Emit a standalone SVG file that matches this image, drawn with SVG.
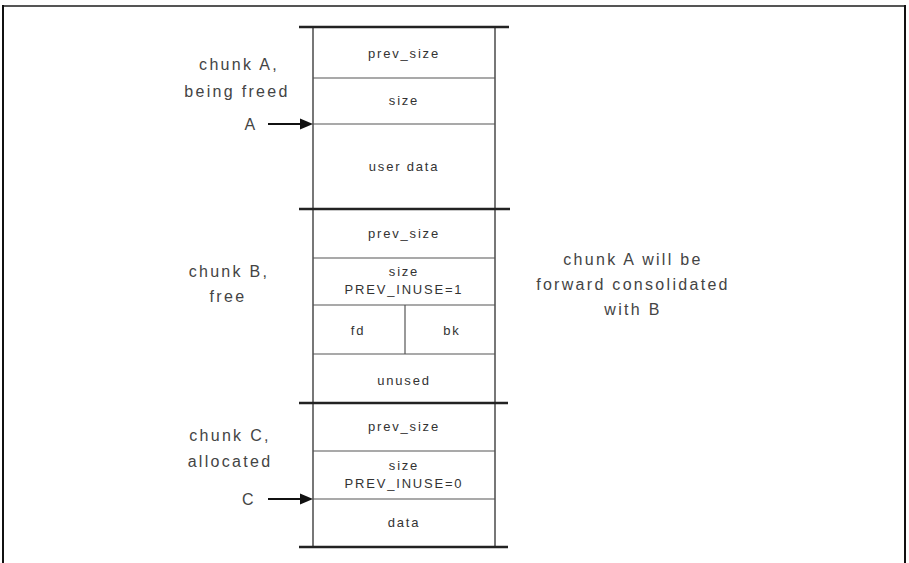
<svg xmlns="http://www.w3.org/2000/svg" width="909" height="563" viewBox="0 0 909 563">
<style>
.cell{font-family:"Liberation Sans",Arial,sans-serif;font-size:13px;letter-spacing:1.8px;fill:#333;text-anchor:middle}
.lbl{font-family:"Liberation Sans",Arial,sans-serif;font-size:16px;letter-spacing:2.3px;fill:#444;text-anchor:middle}
.div{stroke:#555;stroke-width:1.2}
.bar{stroke:#222;stroke-width:2.5}
.vert{stroke:#555;stroke-width:1.6}
.arr{stroke:#111;stroke-width:2;fill:none}
.head{fill:#111}
</style>
<rect width="909" height="563" fill="#fff"/>
<g id="frame" fill="none">
<line x1="2" y1="6" x2="906" y2="6" stroke="#555" stroke-width="2"/>
<line x1="3" y1="5" x2="3" y2="563" stroke="#111" stroke-width="2"/>
<line x1="905" y1="5" x2="905" y2="563" stroke="#111" stroke-width="2"/>
</g>
<g id="column">
<line class="vert" x1="313" y1="27" x2="313" y2="547"/>
<line class="vert" x1="495" y1="27" x2="495" y2="547"/>
<line class="bar" x1="299" y1="27" x2="509" y2="27"/>
<line class="bar" x1="299" y1="209" x2="510" y2="209"/>
<line class="bar" x1="299" y1="403" x2="508" y2="403"/>
<line class="bar" x1="299" y1="547" x2="508" y2="547"/>
</g>
<g id="chunkA">
<g id="a_prev_size"><text class="cell" x="404" y="58">prev_size</text></g>
<line class="div" x1="313" y1="78" x2="495" y2="78"/>
<g id="a_size"><text class="cell" x="404" y="105">size</text></g>
<line class="div" x1="313" y1="124" x2="495" y2="124"/>
<g id="a_user_data"><text class="cell" x="404" y="171">user data</text></g>
<text class="lbl" x="239" y="70">chunk A,</text>
<text class="lbl" x="237" y="97">being freed</text>
<text class="lbl" x="251" y="130" letter-spacing="0">A</text>
</g>
<g id="chunkB">
<g id="b_prev_size"><text class="cell" x="404" y="238">prev_size</text></g>
<line class="div" x1="313" y1="258" x2="495" y2="258"/>
<g id="b_size"><text class="cell" x="404" y="276">size</text><text class="cell" x="404" y="294">PREV_INUSE=1</text></g>
<line class="div" x1="313" y1="305" x2="495" y2="305"/>
<g id="b_fd"><text class="cell" x="358" y="335">fd</text></g>
<line class="div" x1="405" y1="305" x2="405" y2="354"/>
<g id="b_bk"><text class="cell" x="452" y="335">bk</text></g>
<line class="div" x1="313" y1="354" x2="495" y2="354"/>
<g id="b_unused"><text class="cell" x="404" y="385">unused</text></g>
<text class="lbl" x="229" y="277">chunk B,</text>
<text class="lbl" x="228" y="302">free</text>
</g>
<g id="chunkC">
<g id="c_prev_size"><text class="cell" x="404" y="431">prev_size</text></g>
<line class="div" x1="313" y1="451" x2="495" y2="451"/>
<g id="c_size"><text class="cell" x="404" y="470">size</text><text class="cell" x="404" y="488">PREV_INUSE=0</text></g>
<line class="div" x1="313" y1="499" x2="495" y2="499"/>
<g id="c_data"><text class="cell" x="404" y="527">data</text></g>
<text class="lbl" x="230" y="441">chunk C,</text>
<text class="lbl" x="230" y="467">allocated</text>
<text class="lbl" x="249" y="505" letter-spacing="0">C</text>
</g>
<g id="note">
<text class="lbl" x="633" y="265">chunk A will be</text>
<text class="lbl" x="633" y="290">forward consolidated</text>
<text class="lbl" x="633" y="315">with B</text>
</g>
<g id="connectors">
<line class="arr" x1="268" y1="124" x2="303" y2="124"/>
<path class="head" d="M300,118.5 L313,124 L300,129.5 Z"/>
<line class="arr" x1="268" y1="499" x2="303" y2="499"/>
<path class="head" d="M300,493.5 L313,499 L300,504.5 Z"/>
</g>
</svg>
